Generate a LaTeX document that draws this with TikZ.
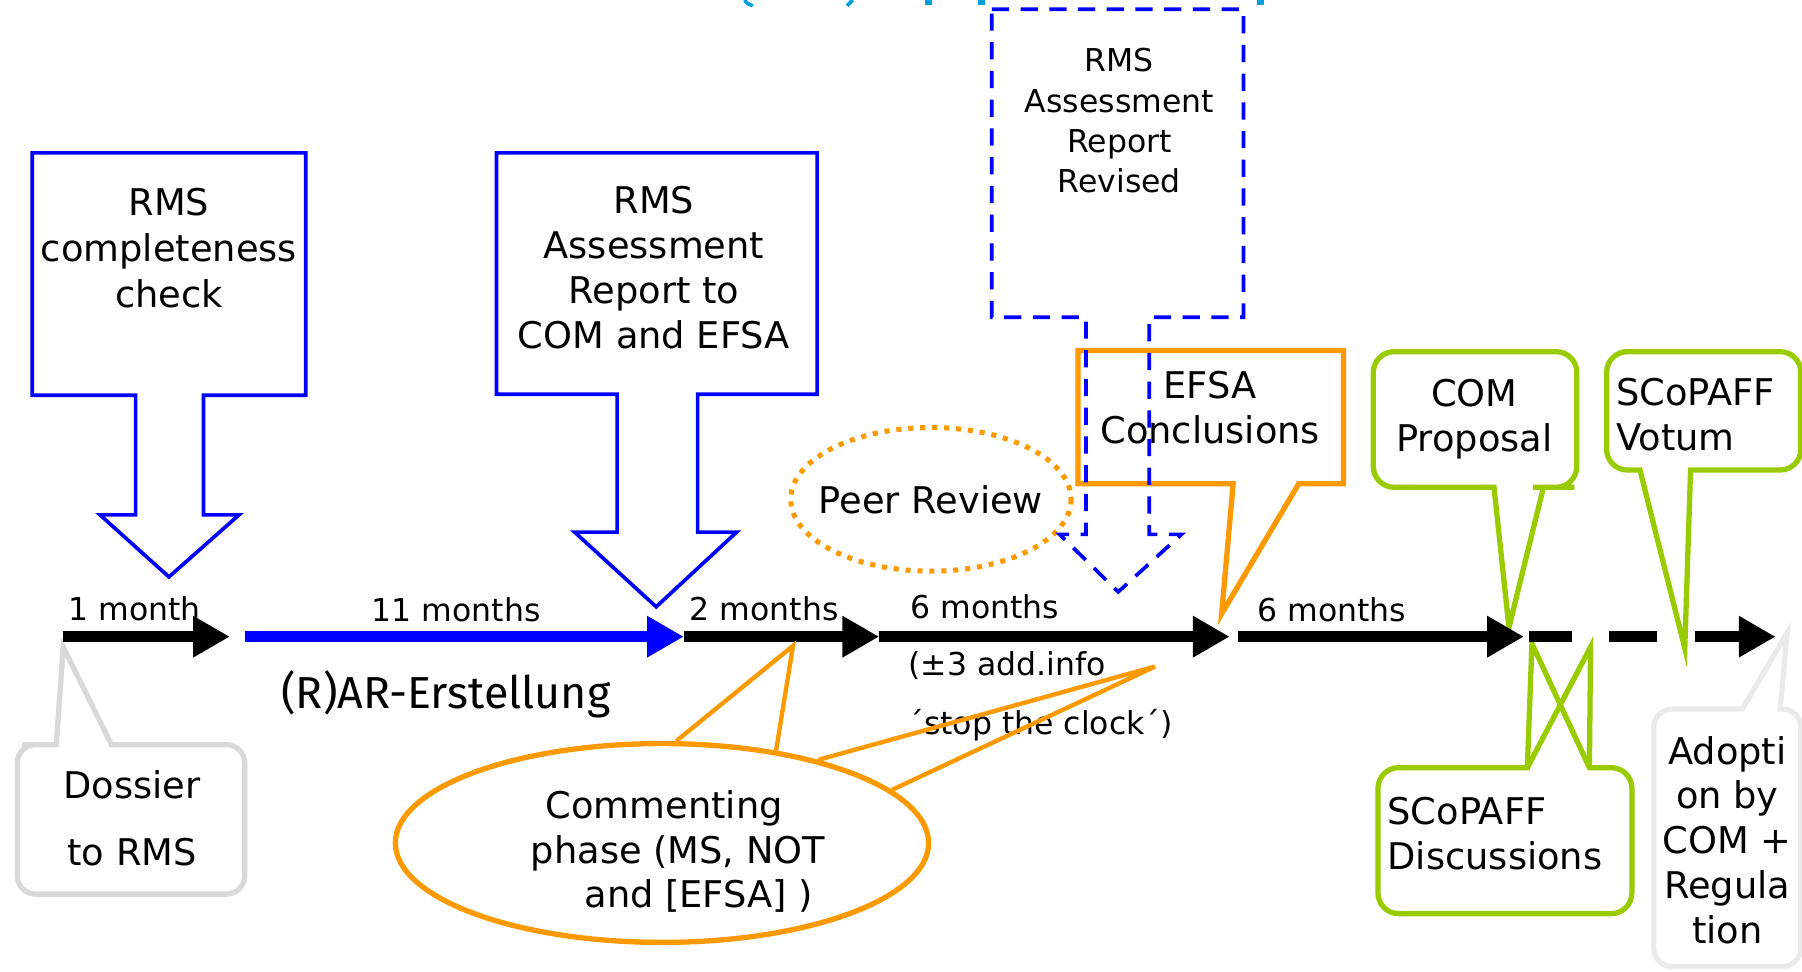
\documentclass[tikz,border=0pt]{standalone}
\usepackage{fontspec}
\setmainfont{DejaVu Sans}
\newfontfamily\firafont{Fira Sans}
\usetikzlibrary{arrows.meta,shapes.geometric}
\definecolor{myorange}{RGB}{255,153,0}
\definecolor{mygreen}{RGB}{153,204,0}
\definecolor{mygray}{RGB}{217,217,217}
\definecolor{paletray}{RGB}{234,234,234}
\definecolor{mycyan}{RGB}{0,160,220}
\begin{document}
\begin{tikzpicture}[x=0.5pt,y=-0.5pt,
  bigtext/.style={font=\fontsize{16}{19.5}\selectfont, align=center, inner sep=0pt},
  smalltext/.style={font=\fontsize{13.7}{17.5}\selectfont, inner sep=0pt},
  bluebox/.style={draw=blue, line width=1.6pt, line join=miter},
  bluedash/.style={draw=blue, line width=1.6pt, dash pattern=on 7.5pt off 5pt},
  orangeline/.style={draw=myorange, line width=2.3pt, line join=miter},
  orangethin/.style={draw=myorange, line width=1.9pt, line join=miter},
  greenline/.style={draw=mygreen, line width=2.3pt, line join=miter},
  grayline/.style={draw=mygray, line width=2.3pt},
  paleline/.style={draw=paletray, line width=2.3pt},
  tlarrow/.style={line width=5pt, -{Triangle[length=16pt,width=17pt]}},
  tlplain/.style={line width=5pt},
]
\useasboundingbox (0,0) rectangle (1568,845);

% cut-off cyan title fragments at the top edge
\draw[mycyan, line width=1.6pt] (648,0) .. controls (650,3) .. (655,5);
\draw[mycyan, line width=1.6pt] (742,0) -- (737,5);
\fill[mycyan] (805,0) rectangle (811,4);
\fill[mycyan] (851,0) rectangle (857,4);
\fill[mycyan] (1094,0) rectangle (1100,4);

% ---- blue block arrows
\draw[bluebox] (28,133) -- (266,133) -- (266,344) -- (177,344) -- (177,448) -- (208,448)
  -- (147,502) -- (87,448) -- (118,448) -- (118,344) -- (28,344) -- cycle;
\node[bigtext, font=\fontsize{16}{20}\selectfont] (rmscheck) at (147,216) {RMS\\completeness\\check};

\draw[bluebox] (432,133) -- (711,133) -- (711,343) -- (607,343) -- (607,463) -- (641,463)
  -- (571,528) -- (500,463) -- (537,463) -- (537,343) -- (432,343) -- cycle;
\node[bigtext] (rmsreport) at (569,233) {RMS\\Assessment\\Report to\\COM and EFSA};

% ---- peer review
\node[font=\fontsize{16}{19.5}\selectfont, inner sep=0pt] (peer) at (810,434.5) {Peer Review};
\draw[draw=myorange, line width=2.2pt, dash pattern=on 2.2pt off 3pt]
  (peer.center) ellipse [x radius=122, y radius=62.5];

% ---- EFSA conclusions
\draw[orangeline] (938,305) -- (1169,305) -- (1169,421) -- (1130,421) -- (1063,534)
  -- (1073,421) -- (938,421) -- cycle;
\node[bigtext] (efsa) at (1053,355) {EFSA\\Conclusions};

% ---- revised report (dashed)
\draw[bluedash] (863,8) -- (1082,8) -- (1082,276) -- (1000,276) -- (1000,465) -- (1028,465)
  -- (973,515) -- (922,465) -- (945,465) -- (945,276) -- (863,276) -- cycle;
\node[smalltext, align=center] (rmsrevised) at (974,105) {RMS\\Assessment\\Report\\Revised};

% ---- COM proposal
\draw[greenline] (1195,365) [rounded corners=9pt] -- (1195,306) -- (1372,306) -- (1372,424)
  -- (1352,424) [sharp corners] -- (1343,424) -- (1313,546) -- (1300,424) -- (1280,424)
  [rounded corners=9pt] -- (1195,424) -- cycle;
\node[bigtext] (comprop) at (1283,365) {COM\\Proposal};

% ---- SCoPAFF Votum
\draw[greenline] (1398,357) [rounded corners=9pt] -- (1398,306) -- (1567,306) -- (1567,409)
  -- (1490,409) [sharp corners] -- (1471,409) -- (1466,564) -- (1427,409) -- (1420,409)
  [rounded corners=9pt] -- (1398,409) -- cycle;
\node[bigtext, align=left, anchor=west] (votum) at (1406,361) {SCoPAFF\\Votum};

% ---- SCoPAFF Discussions
\draw[greenline] (1199,730) [rounded corners=9pt] -- (1199,668) -- (1240,668)
  [sharp corners] -- (1329,668) -- (1333,560) -- (1383,668) -- (1400,668)
  [rounded corners=9pt] -- (1420,668) -- (1420,795) -- (1199,795) -- cycle;
\draw[greenline] (1329,668) -- (1384,563) -- (1383,668);
\node[bigtext, align=left, anchor=west] (discuss) at (1207,725) {SCoPAFF\\Discussions};

% ---- Dossier to RMS
\draw[grayline] (15,713) [rounded corners=8pt] -- (15,648) -- (35,648) [sharp corners]
  -- (49,648) -- (55,563) -- (97,648) -- (115,648) [rounded corners=8pt]
  -- (213,648) -- (213,778) -- (15,778) -- cycle;
\node[bigtext, font=\fontsize{16}{29.5}\selectfont] (dossier) at (115,712) {Dossier\\to RMS};

% ---- Adoption
\draw[paleline] (1439,730) [rounded corners=8pt] -- (1439,617) -- (1490,617) [sharp corners]
  -- (1516,617) -- (1555,551) -- (1549,617) -- (1550,617) [rounded corners=8pt]
  -- (1567,617) -- (1567,841) -- (1439,841) -- cycle;
\node[bigtext] (adopt) at (1503,731) {Adopti\\on by\\COM +\\Regula\\tion};

% ---- timeline
\coordinate (t0) at (55,554);
\coordinate (t1) at (200,554);
\coordinate (t2s) at (213,554);
\coordinate (t2) at (595,554);
\coordinate (t3) at (765,554);
\coordinate (t4) at (1070,554);
\coordinate (t5s) at (1077,554);
\coordinate (t5) at (1326,554);
\coordinate (d1s) at (1330,554);
\coordinate (d1e) at (1368,554);
\coordinate (d2s) at (1400,554);
\coordinate (d2e) at (1442,554);
\coordinate (t6s) at (1475,554);
\coordinate (t6) at (1545,554);
\draw[tlarrow] (t0) -- (t1);
\draw[tlarrow, blue] (t2s) -- (t2);
\draw[tlarrow] (t2) -- (t3);
\draw[tlarrow] (t3) -- (t4);
\draw[tlarrow] (t5s) -- (t5);
\draw[tlplain] (d1s) -- (d1e);
\draw[tlplain] (d2s) -- (d2e);
\draw[tlarrow] (t6s) -- (t6);

\node[smalltext, anchor=base] (lab1) at (117,540) {1 month};
\node[smalltext, anchor=base] (lab2) at (397,541) {11 months};
\node[smalltext, anchor=base] (lab3) at (665,540) {2 months};
\node[smalltext, anchor=base] (lab4) at (857,538) {6 months};
\node[smalltext, anchor=base] (lab5) at (1159,541) {6 months};
\node[smalltext, anchor=base west] (addinfo) at (790,588) {(±3 add.info};
\node[smalltext, anchor=base west] (stopclock) at (790,639) {´stop the clock´)};
\node[font=\firafont\fontsize{19.5}{22}\selectfont, inner sep=0pt] (rar) at (388,604) {(R)AR-Erstellung};

% ---- commenting phase
\node[ellipse, draw=myorange, line width=2.3pt, minimum width=232pt, minimum height=86.5pt,
  inner sep=0pt] (comm) at (576,733.5) {};
\node[bigtext, font=\fontsize{16}{19.3}\selectfont] (commtext) at (578,741)
  {Commenting\\\hspace*{12pt}phase (MS, NOT\\\hspace*{30pt}and [EFSA] )};
\coordinate (cw1) at (690,562);
\coordinate (cw2) at (1005,580);
\draw[orangethin] (comm.82.7) -- (cw1) -- (comm.39);
\draw[orangethin] (comm.28.1) -- (cw2) -- (comm.13.6);
\end{tikzpicture}
\end{document}
